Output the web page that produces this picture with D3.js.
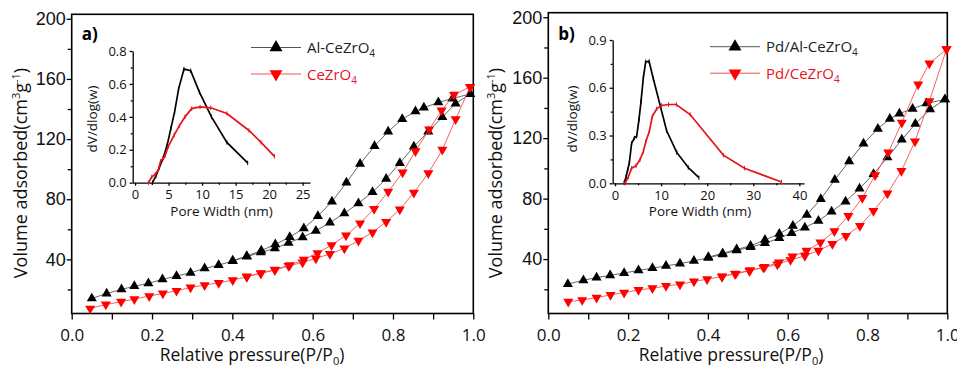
<!DOCTYPE html>
<html>
<head>
<meta charset="utf-8">
<script src="https://cdnjs.cloudflare.com/ajax/libs/d3/7.8.5/d3.min.js"></script>
<style>
  body { margin: 0; background: #fff; }
  .tick line, .domain { stroke: #000; stroke-width: 1.3; }
  .tick text { fill: #111; }
</style>
</head>
<body>
<svg id="chart" width="957" height="367"></svg>
<script>
// isotherms, [P/P0, volume adsorbed]
var alAdsA = [[0.05,14],[0.087,17.3],[0.124,20],[0.156,22.2],[0.191,24],[0.226,26.7],[0.261,28.9],[0.296,31.1],[0.331,34],[0.366,36.2],[0.401,38.9],[0.436,41.8],[0.471,44.7],[0.506,47.3],[0.54,51],[0.575,54.7],[0.608,59],[0.643,64.4],[0.679,70.7],[0.714,77.3],[0.749,84.7],[0.783,93.6],[0.817,104],[0.852,115],[0.888,125],[0.923,134.7],[0.956,143.6],[0.992,150]];
var alDesA = [[0.992,150],[0.948,147],[0.913,144.4],[0.877,140.9],[0.856,138.4],[0.823,133.3],[0.788,125],[0.754,115.3],[0.718,103.5],[0.684,91],[0.648,78.4],[0.613,68.8],[0.578,60.7],[0.543,54.8],[0.507,50],[0.472,45.8],[0.436,42.2],[0.401,39.2]];
var ceAdsA = [[0.046,7.3],[0.085,10],[0.123,11.8],[0.156,13.6],[0.193,15.6],[0.227,17.3],[0.261,19.1],[0.296,21.3],[0.331,22.9],[0.366,24.4],[0.401,26.2],[0.436,28.4],[0.471,30.7],[0.506,32.9],[0.54,35.6],[0.575,38],[0.608,40.7],[0.643,43.6],[0.679,47.3],[0.714,52.4],[0.749,58],[0.783,64.9],[0.817,73.3],[0.852,84.4],[0.888,97.3],[0.923,112.9],[0.956,133.3],[0.992,154.7]];
var ceDesA = [[0.992,154.7],[0.952,149.6],[0.921,139],[0.89,126.4],[0.856,112],[0.824,97.8],[0.788,85],[0.753,73.5],[0.718,64],[0.683,56],[0.647,49.5],[0.612,44.2],[0.578,39.8],[0.543,36.2],[0.506,33.2],[0.471,30.9],[0.436,28.6]];

var alAdsB = [[0.049,23.5],[0.088,26],[0.121,27.8],[0.155,29.2],[0.19,30.8],[0.226,32.5],[0.261,34],[0.295,35.5],[0.33,37],[0.365,38.8],[0.401,40.8],[0.437,43.2],[0.472,45.8],[0.507,47.9],[0.543,50.5],[0.579,53.9],[0.61,57.2],[0.643,60.9],[0.677,65.3],[0.71,71.5],[0.745,78.1],[0.78,86.6],[0.815,96.3],[0.85,107.3],[0.886,119],[0.92,129.5],[0.957,139],[0.994,145.6]];
var alDesB = [[0.994,145.6],[0.948,143],[0.913,139.4],[0.88,136.3],[0.856,132.8],[0.826,126.2],[0.79,116.4],[0.754,104.7],[0.718,92.5],[0.683,79.7],[0.648,69.3],[0.613,62],[0.579,56.7],[0.543,52.7],[0.507,48.8],[0.472,46.4],[0.437,43.8],[0.401,41.3]];
var ceAdsB = [[0.05,11.8],[0.085,12.9],[0.121,14.5],[0.156,16.3],[0.19,17.8],[0.226,19.6],[0.261,20.7],[0.295,22.2],[0.33,23.3],[0.365,25.2],[0.398,26.7],[0.435,28.4],[0.468,30.2],[0.504,32.2],[0.539,34.4],[0.574,36.4],[0.607,39.5],[0.643,42.1],[0.677,45.6],[0.712,50.1],[0.746,55.4],[0.781,62],[0.815,71.8],[0.85,83.4],[0.885,98.3],[0.919,117.9],[0.955,144.5],[0.998,178.8]];
var ceDesB = [[0.998,178.8],[0.955,169.5],[0.927,155.6],[0.886,130.3],[0.852,110.5],[0.819,95.5],[0.787,80.4],[0.752,68.5],[0.717,58.5],[0.682,51],[0.647,45.5],[0.612,41.7],[0.578,37.8],[0.542,34.8],[0.506,32.6],[0.47,30.4],[0.436,28.6]];

// pore size distributions, [width nm, dV/dlog(w)]
var poreAlA = [[2.6,0],[3.1,0.04],[3.6,0.09],[4.2,0.15],[4.8,0.23],[5.35,0.33],[5.9,0.43],[6.5,0.57],[7.3,0.69],[8.3,0.68],[9.6,0.55],[11.4,0.4],[13.7,0.245],[16.8,0.12]];
var poreCeA = [[2.0,0],[2.5,0.035],[3.0,0.05],[3.5,0.08],[3.8,0.13],[4.45,0.16],[4.95,0.22],[5.85,0.29],[6.6,0.345],[7.45,0.4],[8.45,0.45],[9.7,0.46],[11.3,0.455],[13.7,0.42],[17.0,0.317],[18.8,0.245],[20.8,0.16]];
var poreAlB = [[2.0,0.004],[2.4,0.04],[2.75,0.085],[3.1,0.127],[3.6,0.25],[4.2,0.285],[4.7,0.295],[5.2,0.4],[5.65,0.516],[6.15,0.664],[6.65,0.763],[7.4,0.765],[8.3,0.658],[11.2,0.33],[13.4,0.194],[15.9,0.099],[18.2,0.035]];
var poreCeB = [[2.17,0],[2.9,0.04],[3.6,0.095],[4.55,0.11],[5.4,0.147],[6.15,0.2],[6.7,0.263],[7.45,0.326],[8.1,0.42],[9.05,0.468],[10.1,0.489],[11.6,0.495],[13.3,0.495],[16.3,0.432],[23.5,0.177],[28.1,0.095],[36.1,0.008]];

var xTicks = [0, 0.2, 0.4, 0.6, 0.8, 1.0];
var xMinor = [0.1, 0.3, 0.5, 0.7, 0.9];
var yTicks = [40, 80, 120, 160, 200];
var yMinor = [20, 60, 100, 140, 180];

var svg = d3.select("#chart");
var bottom = 313.5;
var black = "#000", red = "#ff0000";

function styleText(sel, family, size) {
  sel.selectAll("text").style("font-family", family).style("font-size", size + "px");
}

function drawMain(p) {
  var x = d3.scaleLinear().domain([0, 1]).range([p.left, p.right]);
  var y = d3.scaleLinear().domain([4, 203]).range([bottom, p.top]);
  var g = svg.append("g");

  var xa = g.append("g").attr("transform", "translate(0," + bottom + ")")
    .call(d3.axisBottom(x).tickValues(xTicks).tickSize(6).tickPadding(9).tickFormat(d3.format(".1f")));
  styleText(xa, "Open Sans", 17);
  g.append("g").attr("transform", "translate(0," + bottom + ")")
    .call(d3.axisBottom(x).tickValues(xMinor).tickSize(6).tickFormat(""));

  var ya = g.append("g").attr("transform", "translate(" + p.left + ",0)")
    .call(d3.axisLeft(y).tickValues(yTicks).tickSize(5).tickPadding(1));
  styleText(ya, "Liberation Sans", 18);
  g.append("g").attr("transform", "translate(" + p.left + ",0)")
    .call(d3.axisLeft(y).tickValues(yMinor).tickSize(4).tickFormat(""));
  g.selectAll(".domain").remove();

  g.append("rect")
    .attr("x", p.left).attr("y", p.top)
    .attr("width", p.right - p.left).attr("height", bottom - p.top)
    .attr("fill", "none").attr("stroke", "#000").attr("stroke-width", 1.6);

  // axis titles
  var xt = g.append("text").attr("x", p.xTitle).attr("y", 361)
    .attr("text-anchor", "middle").style("font-family", "Open Sans").style("font-size", "17.5px").attr("fill", "#111");
  xt.append("tspan").text("Relative pressure(P/P");
  xt.append("tspan").attr("dy", 4).style("font-size", "11px").text("0");
  xt.append("tspan").attr("dy", -4).text(")");

  var yt = g.append("text").attr("transform", "translate(" + p.yTitle + ",173) rotate(-90)")
    .attr("text-anchor", "middle").style("font-family", "Open Sans").style("font-size", "18px").attr("fill", "#111");
  yt.append("tspan").text("Volume adsorbed(cm");
  yt.append("tspan").attr("dy", -7).style("font-size", "11px").text("3");
  yt.append("tspan").attr("dy", 7).text("g");
  yt.append("tspan").attr("dy", -7).style("font-size", "11px").text("-1");
  yt.append("tspan").attr("dy", 7).text(")");

  g.append("text").attr("x", p.left + 10).attr("y", 40)
    .style("font-family", "Open Sans").style("font-weight", "bold").style("font-size", "17px")
    .text(p.tag);

  var line = d3.line().x(function(d) { return x(d[0]); }).y(function(d) { return y(d[1]); });
  var tri = d3.symbol().type(d3.symbolTriangle).size(44);

  p.series.forEach(function(s) {
    [s.ads, s.des].forEach(function(branch) {
      g.append("path").datum(branch)
        .attr("d", line).attr("fill", "none")
        .attr("stroke", s.line).attr("stroke-width", 0.9);
      g.selectAll(null).data(branch).enter().append("path")
        .attr("d", tri)
        .attr("fill", s.color)
        .attr("transform", function(d) {
          return "translate(" + x(d[0]) + "," + y(d[1]) + ")" + (s.down ? " rotate(180)" : "");
        });
    });
  });

  // legend
  p.series.forEach(function(s, i) {
    var ly = p.legY + i * 26.5;
    g.append("line").attr("x1", p.legX).attr("x2", p.legX + 50)
      .attr("y1", ly).attr("y2", ly).attr("stroke", s.line).attr("stroke-width", 1);
    g.append("path").attr("d", d3.symbol().type(d3.symbolTriangle).size(72))
      .attr("fill", s.color)
      .attr("transform", "translate(" + (p.legX + 25) + "," + ly + ")" + (s.down ? " rotate(180)" : ""));
    var t = g.append("text").attr("x", p.legX + 56).attr("y", ly + 5.5)
      .style("font-family", "Open Sans").style("font-size", "15px").attr("fill", s.i === 0 ? "#222" : "#e8141c");
    t.append("tspan").text(s.name);
    t.append("tspan").attr("dy", 4).style("font-size", "10px").text("4");
  });

  drawInset(g, p.inset);
}

function drawInset(g, q) {
  var x = d3.scaleLinear().domain(q.xDomain).range([q.left, q.right]);
  var y = d3.scaleLinear().domain([0, q.yMax]).range([q.bottom, q.top]);

  var xa = g.append("g").attr("transform", "translate(0," + q.bottom + ")")
    .call(d3.axisBottom(x).tickValues(q.xTicks).tickSize(3).tickSizeOuter(0).tickPadding(4));
  styleText(xa, "Open Sans", 13);
  g.append("g").attr("transform", "translate(0," + q.bottom + ")")
    .call(d3.axisBottom(x).tickValues(q.xMinor).tickSize(2).tickFormat(""))
    .select(".domain").remove();

  var ya = g.append("g").attr("transform", "translate(" + q.left + ",0)")
    .call(d3.axisLeft(y).tickValues(q.yTicks).tickSize(3).tickSizeOuter(0).tickPadding(3).tickFormat(d3.format(".1f")));
  styleText(ya, "Open Sans", 13);
  g.append("g").attr("transform", "translate(" + q.left + ",0)")
    .call(d3.axisLeft(y).tickValues(q.yMinor).tickSize(2).tickFormat(""))
    .select(".domain").remove();

  g.append("text").attr("x", q.xTitle).attr("y", 216).attr("text-anchor", "middle")
    .style("font-family", "Open Sans").style("font-size", "13.5px").attr("fill", "#111")
    .text("Pore Width (nm)");
  g.append("text").attr("transform", "translate(" + q.yTitle + ",119) rotate(-90)")
    .attr("text-anchor", "middle")
    .style("font-family", "Open Sans").style("font-size", "13.5px").attr("fill", "#111")
    .text("dV/dlog(w)");

  var line = d3.line().x(function(d) { return x(d[0]); }).y(function(d) { return y(d[1]); });
  q.curves.forEach(function(c) {
    g.append("path").datum(c.data).attr("d", line)
      .attr("fill", "none").attr("stroke", c.color).attr("stroke-width", 1.7);
    g.selectAll(null).data(c.data).enter().append("path")
      .attr("d", "M0,-2.2V2.2")
      .attr("stroke", c.color).attr("stroke-width", 1)
      .attr("transform", function(d) { return "translate(" + x(d[0]) + "," + y(d[1]) + ")"; });
  });
}

drawMain({
  left: 71.7, right: 473.3, top: 14.3, tag: "a)", xTitle: 252, yTitle: 27,
  legX: 251, legY: 47.5,
  series: [
    { i: 0, name: "Al-CeZrO", ads: alAdsA, des: alDesA, color: black, line: "#555", down: false },
    { i: 1, name: "CeZrO", ads: ceAdsA, des: ceDesA, color: red, line: "#f45050", down: true }
  ],
  inset: {
    left: 132.7, right: 310, top: 51, bottom: 182.7, xDomain: [-0.35, 26.1], yMax: 0.8,
    xTicks: [0, 5, 10, 15, 20, 25], xMinor: [2.5, 7.5, 12.5, 17.5, 22.5],
    yTicks: [0, 0.2, 0.4, 0.6, 0.8], yMinor: [0.1, 0.3, 0.5, 0.7],
    xTitle: 221.5, yTitle: 96.5,
    curves: [{ data: poreAlA, color: "#000" }, { data: poreCeA, color: "#e8121b" }]
  }
});

drawMain({
  left: 548.3, right: 947.3, top: 12.7, tag: "b)", xTitle: 731, yTitle: 502,
  legX: 710, legY: 46.7,
  series: [
    { i: 0, name: "Pd/Al-CeZrO", ads: alAdsB, des: alDesB, color: black, line: "#555", down: false },
    { i: 1, name: "Pd/CeZrO", ads: ceAdsB, des: ceDesB, color: red, line: "#f45050", down: true }
  ],
  inset: {
    left: 612.7, right: 804, top: 40, bottom: 183.3, xDomain: [-0.5, 41], yMax: 0.9,
    xTicks: [0, 10, 20, 30, 40], xMinor: [5, 15, 25, 35],
    yTicks: [0, 0.3, 0.6, 0.9], yMinor: [0.15, 0.45, 0.75],
    xTitle: 700, yTitle: 576.5,
    curves: [{ data: poreAlB, color: "#000" }, { data: poreCeB, color: "#e8121b" }]
  }
});
</script>
</body>
</html>
